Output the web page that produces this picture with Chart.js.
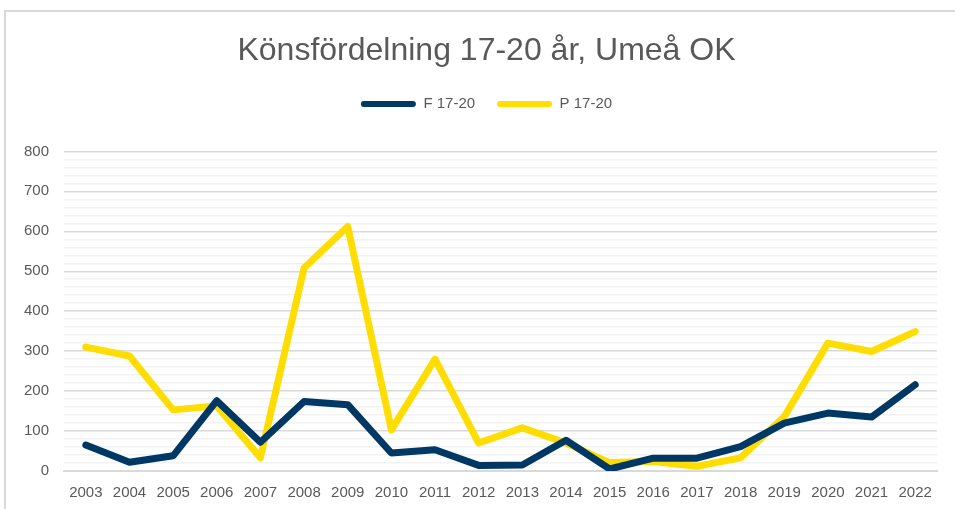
<!DOCTYPE html>
<html>
<head>
<meta charset="utf-8">
<script src="https://cdn.jsdelivr.net/npm/chart.js@4.4.1/dist/chart.umd.min.js"></script>
<style>
  html, body { margin: 0; padding: 0; background: #fff; overflow: hidden; }
  #frame {
    position: absolute; left: 4px; top: 10px;
    width: 1000px; height: 600px;
    border: 2px solid #d9d9d9; box-sizing: border-box;
  }
  #chart { position: absolute; left: 0; top: 0; }
</style>
</head>
<body>
<div id="frame"></div>
<canvas id="chart" width="955" height="509"></canvas>
<script>
const years = ['2003', '2004', '2005', '2006', '2007', '2008', '2009', '2010', '2011', '2012',
  '2013', '2014', '2015', '2016', '2017', '2018', '2019', '2020', '2021', '2022'];

// F 17-20
const girls = [65, 22, 38, 176, 72, 174, 166, 45, 53, 14,
  15, 77, 5, 32, 32, 61, 120, 145, 135, 216];

// P 17-20
const boys = [310, 288, 153, 163, 33, 508, 612, 103, 280, 70,
  108, 70, 21, 24, 12, 33, 136, 320, 299, 349];

const yMax = 800;
const yMajor = 100;
const yMinor = 20;

const textColor = '#595959';
const fontFamily = '"Liberation Sans", Arial, sans-serif';

// y labels hang out to the left of the (narrow) axis box, so widen its label clip
const yLabelRoom = {
  id: 'yLabelRoom',
  afterLayout(chart) { chart.scales.y.left = 0; }
};

const ctx = document.getElementById('chart').getContext('2d');

new Chart(ctx, {
  type: 'line',
  data: {
    labels: years,
    datasets: [
      {
        label: 'F 17-20',
        data: girls,
        xAxisID: 'x',
        yAxisID: 'y',
        borderColor: '#003865',
        backgroundColor: '#003865',
        borderWidth: 7,
        borderCapStyle: 'round',
        borderJoinStyle: 'round',
        tension: 0,
        pointRadius: 0,
        fill: false
      },
      {
        label: 'P 17-20',
        data: boys,
        xAxisID: 'x',
        yAxisID: 'y',
        borderColor: '#ffdd00',
        backgroundColor: '#ffdd00',
        borderWidth: 7,
        borderCapStyle: 'round',
        borderJoinStyle: 'round',
        tension: 0,
        pointRadius: 0,
        fill: false
      }
    ]
  },
  plugins: [yLabelRoom],
  options: {
    responsive: false,
    animation: false,
    layout: { padding: { left: 36, right: 18, top: 0, bottom: 0 } },
    plugins: {
      title: {
        display: true,
        text: 'Könsfördelning 17-20 år, Umeå OK',
        color: textColor,
        font: { family: fontFamily, size: 32, weight: 'normal' },
        padding: { top: 32, bottom: 4 }
      },
      legend: {
        display: true,
        labels: {
          color: textColor,
          font: { family: fontFamily, size: 15 },
          boxWidth: 55,
          boxHeight: 6,
          useBorderRadius: true,
          borderRadius: 3,
          padding: 22,
          generateLabels: (chart) => chart.data.datasets.map((ds, i) => ({
            text: ds.label,
            fillStyle: ds.borderColor,
            strokeStyle: ds.borderColor,
            lineWidth: 0,
            borderRadius: 3,
            fontColor: textColor,
            datasetIndex: i
          }))
        }
      },
      tooltip: { enabled: false }
    },
    scales: {
      // empty top axis, only keeps a gap between legend and plot
      gap: {
        type: 'category',
        position: 'top',
        offset: true,
        grid: { display: false, drawTicks: false },
        border: { display: false },
        ticks: { display: false },
        afterFit: (scale) => { scale.height = 30; }
      },
      x: {
        offset: true,
        grid: { display: false, drawTicks: false },
        border: { display: true, color: '#d9d9d9', width: 2 },
        ticks: {
          color: textColor,
          font: { family: fontFamily, size: 15 },
          padding: 13,
          maxRotation: 0,
          autoSkip: false
        },
        afterFit: (scale) => { scale.height = 38; }
      },
      y: {
        min: 0,
        max: yMax,
        grid: {
          drawTicks: false,
          color: (c) => (c.tick.value % yMajor === 0 ? '#d9d9d9' : '#f2f2f2'),
          lineWidth: 1.5
        },
        border: { display: false },
        ticks: {
          stepSize: yMinor,
          color: textColor,
          font: { family: fontFamily, size: 15 },
          padding: 15,
          autoSkip: false,
          callback: (v) => (v % yMajor === 0 ? String(v) : '')
        },
        afterFit: (scale) => { scale.width = 28; }
      }
    }
  }
});
</script>
</body>
</html>
